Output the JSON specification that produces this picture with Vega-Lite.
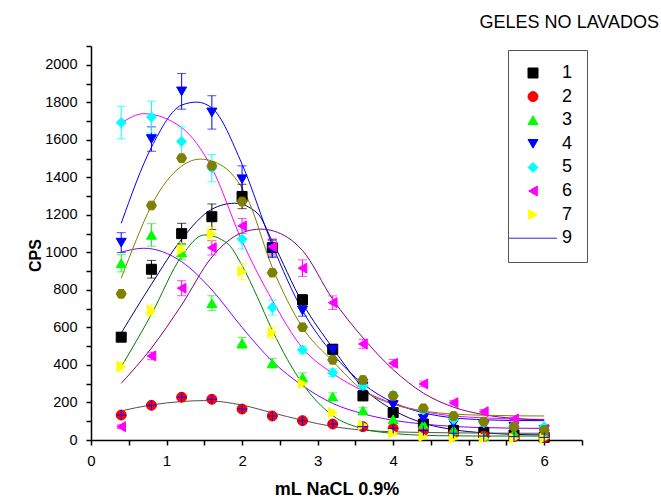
{
  "$schema": "https://vega.github.io/schema/vega-lite/v6.json",
  "width": 491,
  "height": 394,
  "autosize": "none",
  "padding": {"left": 91, "top": 46, "right": 79, "bottom": 61},
  "background": "white",
  "config": {"view": {"stroke": null}, "axis": {"grid": false}},
  "title": {"text": "GELES NO LAVADOS", "anchor": "end", "frame": "group", "fontSize": 18, "fontWeight": "normal", "font": "Liberation Sans", "color": "#000000", "dx": 77, "offset": 20, "dy": 28, "baseline": "alphabetic"},
  "datasets": {
    "pts": [
      {"s":"1","x":0.4,"y":548,"e":22},{"s":"1","x":0.8,"y":910,"e":47},{"s":"1","x":1.2,"y":1100,"e":55},{"s":"1","x":1.6,"y":1190,"e":68},{"s":"1","x":2.0,"y":1298,"e":65},{"s":"1","x":2.4,"y":1025,"e":45},{"s":"1","x":2.8,"y":747,"e":28},{"s":"1","x":3.2,"y":484,"e":20},{"s":"1","x":3.6,"y":235,"e":15},{"s":"1","x":4.0,"y":146,"e":12},{"s":"1","x":4.4,"y":85,"e":10},{"s":"1","x":4.8,"y":50,"e":10},{"s":"1","x":5.2,"y":39,"e":8},{"s":"1","x":5.6,"y":27,"e":8},{"s":"1","x":6.0,"y":14,"e":8},
      {"s":"2","x":0.4,"y":133},{"s":"2","x":0.8,"y":185},{"s":"2","x":1.2,"y":228},{"s":"2","x":1.6,"y":217},{"s":"2","x":2.0,"y":165},{"s":"2","x":2.4,"y":128},{"s":"2","x":2.8,"y":103},{"s":"2","x":3.2,"y":85},{"s":"2","x":3.6,"y":71},{"s":"2","x":4.0,"y":62},{"s":"2","x":4.4,"y":50},{"s":"2","x":4.8,"y":36},{"s":"2","x":5.2,"y":21},{"s":"2","x":5.6,"y":18},{"s":"2","x":6.0,"y":14},
      {"s":"3","x":0.4,"y":942,"e":46},{"s":"3","x":0.8,"y":1093,"e":60},{"s":"3","x":1.2,"y":1000,"e":40},{"s":"3","x":1.6,"y":729,"e":40},{"s":"3","x":2.0,"y":516,"e":30},{"s":"3","x":2.4,"y":409,"e":25},{"s":"3","x":2.8,"y":333,"e":25},{"s":"3","x":3.2,"y":231,"e":20},{"s":"3","x":3.6,"y":157,"e":15},{"s":"3","x":4.0,"y":110,"e":15},{"s":"3","x":4.4,"y":85,"e":12},{"s":"3","x":4.8,"y":53,"e":10},{"s":"3","x":5.2,"y":21,"e":8},{"s":"3","x":5.6,"y":35,"e":8},{"s":"3","x":6.0,"y":32,"e":8},
      {"s":"4","x":0.4,"y":1052,"e":53},{"s":"4","x":0.8,"y":1604,"e":65},{"s":"4","x":1.2,"y":1858,"e":95},{"s":"4","x":1.6,"y":1746,"e":89},{"s":"4","x":2.0,"y":1390,"e":71},{"s":"4","x":2.4,"y":1017,"e":45},{"s":"4","x":2.8,"y":690,"e":30},{"s":"4","x":3.2,"y":480,"e":25},{"s":"4","x":3.6,"y":284,"e":20},{"s":"4","x":4.0,"y":187,"e":15},{"s":"4","x":4.4,"y":114,"e":12},{"s":"4","x":4.8,"y":89,"e":10},{"s":"4","x":5.2,"y":80,"e":10},{"s":"4","x":5.6,"y":71,"e":10},{"s":"4","x":6.0,"y":53,"e":10},
      {"s":"5","x":0.4,"y":1692,"e":87},{"s":"5","x":0.8,"y":1721,"e":85},{"s":"5","x":1.2,"y":1591,"e":78},{"s":"5","x":1.6,"y":1449,"e":73},{"s":"5","x":2.0,"y":1070,"e":52},{"s":"5","x":2.4,"y":706,"e":40},{"s":"5","x":2.8,"y":480,"e":20},{"s":"5","x":3.2,"y":359,"e":20},{"s":"5","x":3.6,"y":290,"e":20},{"s":"5","x":4.0,"y":240,"e":15},{"s":"5","x":4.4,"y":160,"e":12},{"s":"5","x":4.8,"y":110,"e":10},{"s":"5","x":5.2,"y":92,"e":10},{"s":"5","x":5.6,"y":80,"e":10},{"s":"5","x":6.0,"y":71,"e":10},
      {"s":"6","x":0.4,"y":71,"e":10},{"s":"6","x":0.8,"y":448,"e":20},{"s":"6","x":1.2,"y":809,"e":40},{"s":"6","x":1.6,"y":1025,"e":39},{"s":"6","x":2.0,"y":1141,"e":40},{"s":"6","x":2.4,"y":1030,"e":40},{"s":"6","x":2.8,"y":916,"e":44},{"s":"6","x":3.2,"y":732,"e":36},{"s":"6","x":3.6,"y":512,"e":25},{"s":"6","x":4.0,"y":409,"e":20},{"s":"6","x":4.4,"y":299,"e":15},{"s":"6","x":4.8,"y":199,"e":12},{"s":"6","x":5.2,"y":151,"e":12},{"s":"6","x":5.6,"y":112,"e":10},{"s":"6","x":6.0,"y":57,"e":10},
      {"s":"7","x":0.4,"y":391,"e":25},{"s":"7","x":0.8,"y":690,"e":30},{"s":"7","x":1.2,"y":1013,"e":40},{"s":"7","x":1.6,"y":1099,"e":40},{"s":"7","x":2.0,"y":898,"e":44},{"s":"7","x":2.4,"y":572,"e":31},{"s":"7","x":2.8,"y":302,"e":20},{"s":"7","x":3.2,"y":146,"e":15},{"s":"7","x":3.6,"y":80,"e":12},{"s":"7","x":4.0,"y":36,"e":10},{"s":"7","x":4.4,"y":18,"e":8},{"s":"7","x":4.8,"y":9,"e":8},{"s":"7","x":5.2,"y":9,"e":8},{"s":"7","x":5.6,"y":9,"e":8},{"s":"7","x":6.0,"y":9,"e":8},
      {"s":"8","x":0.4,"y":779},{"s":"8","x":0.8,"y":1250},{"s":"8","x":1.2,"y":1502},{"s":"8","x":1.6,"y":1461},{"s":"8","x":2.0,"y":1271},{"s":"8","x":2.4,"y":892},{"s":"8","x":2.8,"y":601},{"s":"8","x":3.2,"y":427},{"s":"8","x":3.6,"y":320},{"s":"8","x":4.0,"y":235},{"s":"8","x":4.4,"y":169},{"s":"8","x":4.8,"y":128},{"s":"8","x":5.2,"y":98},{"s":"8","x":5.6,"y":71},{"s":"8","x":6.0,"y":53}
    ],
    "fit": [
      {"c":"1","x":0.4,"y":570},{"c":"1","x":0.8,"y":830},{"c":"1","x":1.2,"y":1070},{"c":"1","x":1.6,"y":1230},{"c":"1","x":1.9,"y":1262},{"c":"1","x":2.2,"y":1210},{"c":"1","x":2.4,"y":1060},{"c":"1","x":2.8,"y":730},{"c":"1","x":3.2,"y":490},{"c":"1","x":3.6,"y":280},{"c":"1","x":4.0,"y":160},{"c":"1","x":4.4,"y":90},{"c":"1","x":4.8,"y":55},{"c":"1","x":5.2,"y":38},{"c":"1","x":5.6,"y":30},{"c":"1","x":6.0,"y":27},
      {"c":"2","x":0.4,"y":155},{"c":"2","x":0.8,"y":187},{"c":"2","x":1.2,"y":205},{"c":"2","x":1.5,"y":210},{"c":"2","x":2.0,"y":186},{"c":"2","x":2.4,"y":145},{"c":"2","x":2.8,"y":105},{"c":"2","x":3.2,"y":72},{"c":"2","x":3.6,"y":52},{"c":"2","x":4.0,"y":44},{"c":"2","x":4.4,"y":40},{"c":"2","x":4.8,"y":38},{"c":"2","x":5.2,"y":37},{"c":"2","x":5.6,"y":36},{"c":"2","x":6.0,"y":36},
      {"c":"3","x":0.4,"y":1001},{"c":"3","x":0.7,"y":1022},{"c":"3","x":1.2,"y":950},{"c":"3","x":1.6,"y":800},{"c":"3","x":2.0,"y":600},{"c":"3","x":2.4,"y":420},{"c":"3","x":2.8,"y":290},{"c":"3","x":3.2,"y":195},{"c":"3","x":3.6,"y":140},{"c":"3","x":4.0,"y":105},{"c":"3","x":4.4,"y":85},{"c":"3","x":4.8,"y":72},{"c":"3","x":5.2,"y":66},{"c":"3","x":5.6,"y":63},{"c":"3","x":6.0,"y":62},
      {"c":"4","x":0.4,"y":1155},{"c":"4","x":0.8,"y":1560},{"c":"4","x":1.2,"y":1785},{"c":"4","x":1.4,"y":1801},{"c":"4","x":1.6,"y":1770},{"c":"4","x":2.0,"y":1470},{"c":"4","x":2.4,"y":1040},{"c":"4","x":2.8,"y":690},{"c":"4","x":3.2,"y":460},{"c":"4","x":3.6,"y":300},{"c":"4","x":4.0,"y":200},{"c":"4","x":4.4,"y":145},{"c":"4","x":4.8,"y":118},{"c":"4","x":5.2,"y":108},{"c":"4","x":5.6,"y":104},{"c":"4","x":6.0,"y":103},
      {"c":"5","x":0.4,"y":1690},{"c":"5","x":0.7,"y":1739},{"c":"5","x":1.2,"y":1665},{"c":"5","x":1.6,"y":1450},{"c":"5","x":2.0,"y":1060},{"c":"5","x":2.4,"y":745},{"c":"5","x":2.8,"y":490},{"c":"5","x":3.2,"y":355},{"c":"5","x":3.6,"y":262},{"c":"5","x":4.0,"y":195},{"c":"5","x":4.4,"y":152},{"c":"5","x":4.8,"y":128},{"c":"5","x":5.2,"y":118},{"c":"5","x":5.6,"y":112},{"c":"5","x":6.0,"y":110},
      {"c":"6","x":0.4,"y":302},{"c":"6","x":0.8,"y":490},{"c":"6","x":1.2,"y":720},{"c":"6","x":1.6,"y":975},{"c":"6","x":2.0,"y":1105},{"c":"6","x":2.25,"y":1124},{"c":"6","x":2.6,"y":1080},{"c":"6","x":2.8,"y":1010},{"c":"6","x":3.2,"y":750},{"c":"6","x":3.6,"y":545},{"c":"6","x":4.0,"y":375},{"c":"6","x":4.4,"y":250},{"c":"6","x":4.8,"y":175},{"c":"6","x":5.2,"y":135},{"c":"6","x":5.6,"y":115},{"c":"6","x":6.0,"y":107},
      {"c":"7","x":0.4,"y":390},{"c":"7","x":0.8,"y":670},{"c":"7","x":1.2,"y":980},{"c":"7","x":1.5,"y":1093},{"c":"7","x":1.8,"y":1050},{"c":"7","x":2.0,"y":930},{"c":"7","x":2.2,"y":764},{"c":"7","x":2.4,"y":585},{"c":"7","x":2.8,"y":300},{"c":"7","x":3.2,"y":130},{"c":"7","x":3.6,"y":60},{"c":"7","x":4.0,"y":35},{"c":"7","x":4.4,"y":25},{"c":"7","x":4.8,"y":22},{"c":"7","x":5.2,"y":21},{"c":"7","x":5.6,"y":21},{"c":"7","x":6.0,"y":21},
      {"c":"8","x":0.4,"y":862},{"c":"8","x":0.6,"y":1067},{"c":"8","x":0.8,"y":1250},{"c":"8","x":1.2,"y":1460},{"c":"8","x":1.45,"y":1497},{"c":"8","x":1.75,"y":1458},{"c":"8","x":2.06,"y":1298},{"c":"8","x":2.4,"y":920},{"c":"8","x":2.8,"y":600},{"c":"8","x":3.2,"y":420},{"c":"8","x":3.6,"y":265},{"c":"8","x":4.0,"y":190},{"c":"8","x":4.4,"y":155},{"c":"8","x":4.8,"y":138},{"c":"8","x":5.2,"y":132},{"c":"8","x":5.6,"y":129},{"c":"8","x":6.0,"y":128}
    ]
  },
  "encoding": {
    "x": {"field": "x", "type": "quantitative",
      "scale": {"domain": [0, 6.5], "nice": false, "zero": false},
      "axis": {"title": "mL NaCL 0.9%", "values": [0,0.5,1,1.5,2,2.5,3,3.5,4,4.5,5,5.5,6,6.5],
        "labelExpr": "datum.value % 1 === 0 ? format(datum.value, 'd') : ''",
        "labelOverlap": false, "labelFlush": false, "labelFont": "Liberation Sans", "labelFontSize": 15, "labelColor": "#000000", "labelPadding": 8,
        "tickSize": 5, "tickWidth": 1.5, "tickColor": "#000000", "domainColor": "#000000", "domainWidth": 1.5,
        "titleFont": "Liberation Sans", "titleFontSize": 18, "titleFontWeight": "bold", "titleColor": "#000000", "titlePadding": 12}},
    "y": {"field": "y", "type": "quantitative",
      "scale": {"domain": [0, 2100], "nice": false, "zero": false},
      "axis": {"title": "CPS", "values": [0,100,200,300,400,500,600,700,800,900,1000,1100,1200,1300,1400,1500,1600,1700,1800,1900,2000,2100],
        "labelExpr": "(datum.value % 200 === 0 && datum.value <= 2000) ? format(datum.value, 'd') : ''",
        "labelOverlap": false, "labelFlush": false, "labelFont": "Liberation Sans", "labelFontSize": 14.5, "labelColor": "#000000", "labelPadding": 9,
        "tickSize": 5, "tickWidth": 1.5, "tickColor": "#000000", "domainColor": "#000000", "domainWidth": 1.5,
        "titleFont": "Liberation Sans", "titleFontSize": 16, "titleFontWeight": "bold", "titleColor": "#000000", "titleX": -56, "titleY": 209, "titleAlign": "center", "titleBaseline": "middle", "titleAngle": -90}}
  },
  "layer": [
    {
      "data": {"name": "fit"},
      "mark": {"type": "line", "interpolate": "monotone", "strokeWidth": 1},
      "encoding": {
        "detail": {"field": "c"},
        "color": {"field": "c", "type": "nominal", "legend": null,
          "scale": {"domain": ["1","2","3","4","5","6","7","8"], "range": ["#000080","#505050","#8000FF","#0000FF","#FF00FF","#800080","#008000","#808000"]}}
      }
    },
    {
      "data": {"name": "pts"},
      "transform": [{"filter": "isValid(datum.e)"}],
      "mark": {"type": "errorbar", "ticks": true, "size": 9, "thickness": 1},
      "encoding": {
        "yError": {"field": "e"},
        "color": {"field": "s", "type": "nominal", "legend": null,
          "scale": {"domain": ["1","2","3","4","5","6","7","8"], "range": ["#000000","#0000FF","#00FF00","#0000FF","#00FFFF","#FF00FF","#FFFF00","#808000"]}}
      }
    },
    {
      "data": {"name": "pts"},
      "mark": {"type": "point", "filled": true, "opacity": 1, "strokeWidth": 1, "size": 100},
      "encoding": {
        "color": {"field": "s", "type": "nominal",
          "scale": {"domain": ["1","2","3","4","5","6","7","8","9"], "range": ["#000000","#FF0000","#00FF00","#0000FF","#00FFFF","#FF00FF","#FFFF00","#808000","#2B2BD0"]},
          "legend": {"values": ["1","2","3","4","5","6","7","9"], "title": null, "orient": "none", "legendX": 417, "legendY": 4, "strokeColor": "#555555", "padding": 14, "labelFontSize": 18, "labelFont": "Liberation Sans", "labelColor": "#000000", "symbolSize": 100, "symbolStrokeWidth": 1, "labelOffset": 20, "rowPadding": 5.6, "symbolOffset": 2}},
        "stroke": {"field": "s", "type": "nominal",
          "scale": {"domain": ["1","2","3","4","5","6","7","8","9"], "range": ["#000000","#FF0000","#00FF00","#0000FF","#00FFFF","#FF00FF","#FFFF00","#808000","#2B2BD0"]},
          "legend": {"values": ["1","2","3","4","5","6","7","9"], "title": null, "orient": "none", "legendX": 417, "legendY": 4, "strokeColor": "#555555", "padding": 14, "labelFontSize": 18, "labelFont": "Liberation Sans", "labelColor": "#000000", "symbolSize": 100, "symbolStrokeWidth": 1, "labelOffset": 20, "rowPadding": 5.6, "symbolOffset": 2}},
        "shape": {"field": "s", "type": "nominal",
          "scale": {"domain": ["1","2","3","4","5","6","7","8","9"], "range": ["square","circle","triangle-up","triangle-down","diamond","triangle-left","triangle-right","M-1,0L-0.5,-0.866L0.5,-0.866L1,0L0.5,0.866L-0.5,0.866Z","M-4.8,0L4.8,0"]},
          "legend": {"values": ["1","2","3","4","5","6","7","9"], "title": null, "orient": "none", "legendX": 417, "legendY": 4, "strokeColor": "#555555", "padding": 14, "labelFontSize": 18, "labelFont": "Liberation Sans", "labelColor": "#000000", "symbolSize": 100, "symbolStrokeWidth": 1, "labelOffset": 20, "rowPadding": 5.6, "symbolOffset": 2}}
      }
    },
    {
      "data": {"name": "pts"},
      "transform": [{"filter": "datum.s === '2'"}],
      "mark": {"type": "point", "filled": false, "opacity": 1, "shape": "M-1,0L1,0M0,-1L0,1", "stroke": "#0000FF", "strokeWidth": 1, "size": 100}
    }
  ],
  "resolve": {
    "scale": {"color": "independent", "stroke": "independent", "shape": "independent"},
    "legend": {"color": "independent", "stroke": "independent", "shape": "independent"}
  }
}
